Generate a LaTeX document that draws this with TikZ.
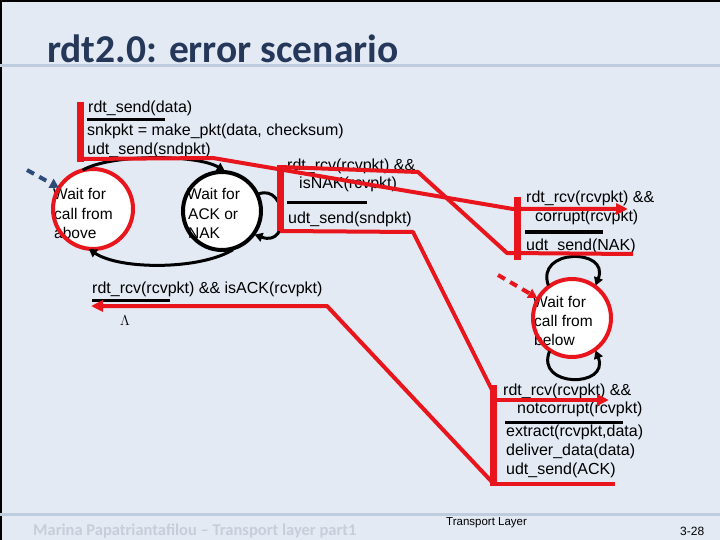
\documentclass[tikz,border=0pt]{standalone}
\usepackage{fontspec}
\setmainfont{Liberation Sans}
\newfontfamily\calib{Carlito}
\usetikzlibrary{arrows.meta}
\definecolor{bgc}{RGB}{227,234,244}
\definecolor{titlec}{RGB}{38,56,90}
\definecolor{rulec}{RGB}{190,204,222}
\definecolor{footc}{RGB}{198,206,217}
\definecolor{myred}{RGB}{232,22,28}
\definecolor{dblue}{RGB}{46,76,122}
\begin{document}
\begin{tikzpicture}[x=1pt,y=-1pt,
  lbl/.style={anchor=base west, inner sep=0pt, font=\fontsize{16}{19}\selectfont},
  stxt/.style={anchor=base west, inner sep=0pt, font=\fontsize{15.5}{19}\selectfont},
  state/.style={circle, fill=white, minimum size=80pt, inner sep=0pt},
  redln/.style={draw=myred, line width=4pt, line join=round},
  redbar/.style={draw=myred, line width=7pt},
  uline/.style={draw=black, line width=3pt},
  arc/.style={draw=black, line width=3pt, -{Triangle[length=8pt,width=9pt]}},
  redarr/.style={-{Triangle[length=12pt,width=11pt]}},
  dsh/.style={line width=4pt, dash pattern=on 8pt off 6pt, -{Triangle[length=9pt,width=10pt]}}
]
\fill[bgc] (0,0) rectangle (720,540);
\useasboundingbox (0,0) rectangle (720,540);
\draw[black, line width=2pt] (1,540) -- (1,1) -- (720,1);

% title and footer
\node[anchor=base west, inner sep=0pt, text=titlec, font=\calib\bfseries\fontsize{39.5}{40}\selectfont] (title) at (47,63) {rdt2.0: error scenario};
\draw[rulec, line width=3pt] (0,66) -- (720,66);
\draw[rulec, line width=3pt] (0,514) -- (720,514);
\node[anchor=base west, inner sep=0pt, text=footc, font=\calib\bfseries\fontsize{16.5}{16.5}\selectfont] (foot) at (33,535) {Marina Papatriantafilou – Transport layer part1};
\node[anchor=base west, inner sep=0pt, font=\fontsize{11.5}{12}\selectfont] (tl) at (446,525) {Transport Layer};
\node[anchor=base west, inner sep=0pt, font=\fontsize{12}{12}\selectfont] (pg) at (680,535) {3-28};

% states
\node[state] (cA) at (93,209) {};
\node[state] (cB) at (222,211) {};
\node[state] (cR) at (572,318) {};
\node[stxt] (tA1) at (53,200) {Wait for};
\node[stxt] (tA2) at (54,219) {call from};
\node[stxt] (tA3) at (54,238) {above};
\node[stxt] (tB1) at (187,200) {Wait for};
\node[stxt] (tB2) at (188,219) {ACK or};
\node[stxt] (tB3) at (188,238) {NAK};
\node[stxt] (tR1) at (533,307) {Wait for};
\node[stxt] (tR2) at (534,326) {call from};
\node[stxt] (tR3) at (534,345) {below};
\draw[myred, line width=4pt] (cA.center) circle[radius=40];
\draw[black, line width=4pt] (cB.center) circle[radius=39];
\draw[myred, line width=4pt] (cR.center) circle[radius=39];

% black transitions
\draw[arc] (cA.105) .. controls (110,154) and (196,154) .. (cB.86);
\draw[arc] (cB.286) .. controls (200,270) and (120,270) .. (cA.264);
\draw[arc] (cB.25) .. controls (287,183) and (292,248) .. (cB.324);
\draw[arc] (cR.126) .. controls (535,248) and (610,248) .. (cR.54);
\draw[arc] (cR.236) .. controls (535,388) and (610,388) .. (cR.306);

% initial arrows
\coordinate (bd0) at (27,170);
\draw[dblue, dsh] (bd0) -- (cA.148);
\coordinate (rd0) at (498,275);
\draw[myred, dsh] (rd0) -- (cR.150);

% labels
\node[lbl] (s1) at (88,113) {rdt\_send(data)};
\draw[uline] (87,120) -- (165,120);
\node[lbl] (s2) at (87,136) {snkpkt = make\_pkt(data, checksum)};
\node[lbl] (s3) at (87,155) {udt\_send(sndpkt)};

\node[lbl] (n1) at (287,171) {rdt\_rcv(rcvpkt) \&\&};
\node[lbl] (n2) at (299,189) {isNAK(rcvpkt)};
\draw[uline] (287,203) -- (367,203);
\node[lbl] (n3) at (288,223) {udt\_send(sndpkt)};

\node[lbl] (k1) at (92,293) {rdt\_rcv(rcvpkt) \&\& isACK(rcvpkt)};
\draw[uline] (92,300) -- (170,300);
\node[anchor=base west, inner sep=0pt, font=\fontsize{14}{14}\selectfont] (lam) at (120,325) {$\Lambda$};

\node[lbl] (c1) at (526,203) {rdt\_rcv(rcvpkt) \&\&};
\node[lbl] (c2) at (535,222) {corrupt(rcvpkt)};
\draw[uline] (525,232) -- (603,232);
\node[lbl] (c3) at (526,251) {udt\_send(NAK)};

\node[lbl] (r1) at (503,395) {rdt\_rcv(rcvpkt) \&\&};
\node[lbl] (r2) at (517,413) {notcorrupt(rcvpkt)};
\draw[uline] (505,422) -- (623,422);
\node[lbl] (r3) at (506,436) {extract(rcvpkt,data)};
\node[lbl] (r4) at (506,455) {deliver\_data(data)};
\node[lbl] (r5) at (506,474) {udt\_send(ACK)};

% red annotation lines
\coordinate (a0) at (80,159);
\coordinate (a1) at (213,158);
\coordinate (a2) at (513,209);
\coordinate (a3) at (628,209);
\draw[redln, redarr] (a0) -- (a1) -- (a2) -- (a3);

\coordinate (b0) at (280,167);
\coordinate (b1) at (418,172);
\coordinate (b2) at (507,253);
\coordinate (b3) at (633,254);
\draw[redln] (b0) -- (b1) -- (b2) -- (b3);

\coordinate (d0) at (280,231);
\coordinate (d1) at (413,232);
\coordinate (d2) at (492,390);
\draw[redln] (d0) -- (d1) -- (d2);

\coordinate (e0) at (493,400);
\coordinate (e1) at (609,400);
\draw[redln, redarr] (e0) -- (e1);
\coordinate (f0) at (493,484);
\coordinate (f1) at (615,484);
\draw[redln] (f0) -- (f1);

\coordinate (g0) at (492,482);
\coordinate (g1) at (327,306);
\coordinate (g2) at (91,306);
\draw[redln, redarr] (g0) -- (g1) -- (g2);

\draw[redbar] (80,102) -- (80,162);
\draw[redbar] (280,165) -- (280,231);
\draw[redbar] (517,197) -- (517,260);
\draw[redbar] (493,385) -- (493,486);
\end{tikzpicture}
\end{document}
